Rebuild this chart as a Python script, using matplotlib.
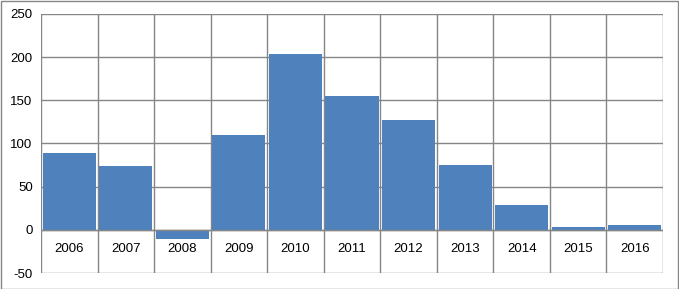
import numpy as np
import matplotlib.pyplot as plt
from matplotlib.patches import Rectangle

years = ['2006', '2007', '2008', '2009', '2010', '2011', '2012', '2013', '2014', '2015', '2016']
values = [89, 74.5, -11, 110, 204, 155, 127, 75, 29, 3.5, 6]
yticks = [-50, 0, 50, 100, 150, 200, 250]

plt.rcParams['font.family'] = ['Liberation Sans', 'DejaVu Sans']

fig = plt.figure(figsize=(6.79, 2.89), dpi=100)
ax = fig.add_axes([41 / 679, 16 / 289, 622 / 679, 259 / 289])

x = np.arange(len(years))
grid_col = '#868686'
ax.bar(x, values, width=0.94, color='#4f81bd', zorder=2)

ax.set_xlim(-0.5, len(years) - 0.5)
ax.set_ylim(-50, 250)
ax.set_yticks(yticks)
ax.set_yticklabels([str(v) for v in yticks], fontsize=9.5)
ax.tick_params(axis='y', length=0, pad=6)
ax.set_xticks([])

# category boundaries + value gridlines
for b in np.arange(-0.5, len(years), 1):
    ax.axvline(b, color=grid_col, lw=1, zorder=1)
for v in yticks:
    ax.axhline(v, color=grid_col, lw=1, zorder=1)
ax.axhline(0, color=grid_col, lw=1, zorder=3)

for i, yr in enumerate(years):
    ax.text(i, -22, yr, ha='center', va='center', fontsize=9.5)

for s in ax.spines.values():
    s.set_visible(False)

fig.patches.append(Rectangle((0.5 / 679, 0.5 / 289), 677.5 / 679, 287.5 / 289,
                             transform=fig.transFigure, fill=False,
                             edgecolor='#868686', lw=1))

fig.savefig('out.png', dpi=100)
